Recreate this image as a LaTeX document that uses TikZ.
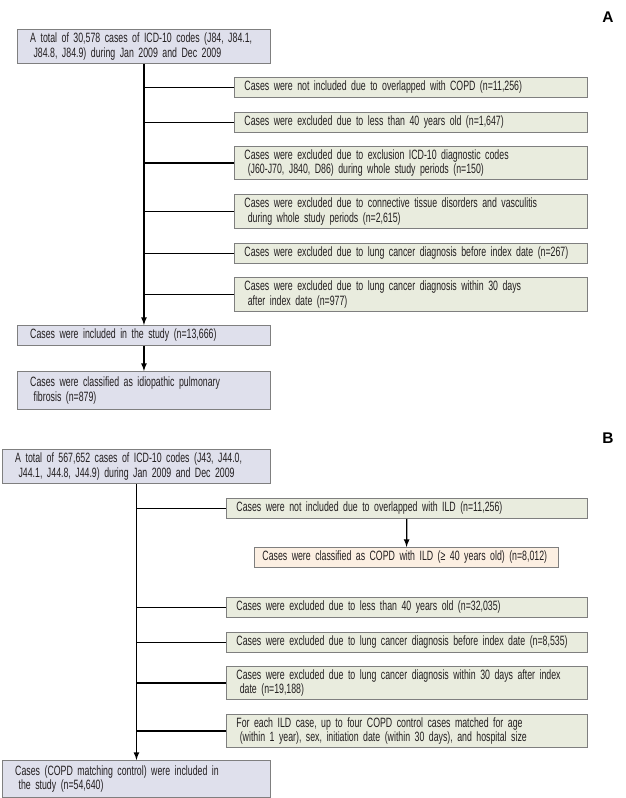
\documentclass[tikz,border=0pt]{standalone}
\usepackage{fontspec}
\setmainfont{Liberation Sans}[FakeStretch=0.65]
\newfontfamily\panelfont{Liberation Sans}
\usepackage{xcolor}
\usepackage{tikz}
\usetikzlibrary{arrows, positioning}

\definecolor{boxline}{HTML}{7F7F7F}
\definecolor{mainfill}{HTML}{DFE0EC}
\definecolor{exclfill}{HTML}{E9ECDE}
\definecolor{subfill}{HTML}{FCEFE2}
\definecolor{textgray}{HTML}{231F20}

\newcommand{\boxfont}{\fontsize{9.6pt}{10.2pt}\selectfont}

\begin{document}
\begin{tikzpicture}[x=0.025cm, y=-0.025cm,
  font=\boxfont, text=textgray,
  flowbox/.style={draw=boxline, line width=0.6pt, anchor=north west, align=left, inner ysep=0pt},
  mainbox/.style={flowbox, fill=mainfill, inner xsep=0.32cm},
  exclbox/.style={flowbox, fill=exclfill, inner xsep=0.25cm},
  subbox/.style={flowbox, fill=subfill, inner xsep=0.2cm},
  trunk/.style={draw=black, line width=0.9pt},
  panel/.style={font=\panelfont\bfseries\fontsize{11pt}{12pt}\selectfont, text=black}
]
\useasboundingbox (0,0) rectangle (626,798);

%------------- Panel A
	\node[panel] (labelA) at (608,17) {A};

	\node[mainbox, text width=5.685cm, minimum height=0.85cm] (topA) at (17,29)
		{A total of 30,578 cases of ICD-10 codes (J84, J84.1,\\\hspace*{0.25em}J84.8, J84.9) during Jan 2009 and Dec 2009};

	\node[exclbox, text width=8.325cm, minimum height=0.5cm] (A_Copd) at (234,77)
		{Cases were not included due to overlapped with COPD (n=11,256)};
	\node[exclbox, text width=8.325cm, minimum height=0.5cm] (A_Age) at (234,112)
		{Cases were excluded due to less than 40 years old (n=1,647)};
	\node[exclbox, text width=8.325cm, minimum height=0.825cm] (A_Codes) at (234,146)
		{Cases were excluded due to exclusion ICD-10 diagnostic codes\\\hspace*{0.25em}(J60-J70, J840, D86) during whole study periods (n=150)};
	\node[exclbox, text width=8.325cm, minimum height=0.85cm] (A_Tissue) at (234,194)
		{Cases were excluded due to connective tissue disorders and vasculitis\\\hspace*{0.25em}during whole study periods (n=2,615)};
	\node[exclbox, text width=8.325cm, minimum height=0.5cm] (A_Before) at (234,243)
		{Cases were excluded due to lung cancer diagnosis before index date (n=267)};
	\node[exclbox, text width=8.325cm, minimum height=0.85cm] (A_Within) at (234,277)
		{Cases were excluded due to lung cancer diagnosis within 30 days\\\hspace*{0.25em}after index date (n=977)};

	\node[mainbox, text width=5.685cm, minimum height=0.5cm] (A_Incl) at (17,325)
		{Cases were included in the study (n=13,666)};
	\node[mainbox, text width=5.685cm, minimum height=0.95cm] (A_Ipf) at (17,371)
		{Cases were classified as idiopathic pulmonary\\\hspace*{0.25em}fibrosis (n=879)};

	\draw[trunk, -latex] (topA) -- (A_Incl);
	\draw[trunk, -latex] (A_Incl) -- (A_Ipf);
	\foreach \b in {A_Copd, A_Age, A_Codes, A_Tissue, A_Before, A_Within}
		\draw[trunk] (\b.west -| topA.south) -- (\b.west);

%------------- Panel B
	\node[panel] (labelB) at (608,438) {B};

	\node[mainbox, text width=6.06cm, minimum height=0.85cm] (topB) at (2,449)
		{A total of 567,652 cases of ICD-10 codes (J43, J44.0,\\\hspace*{0.25em}J44.1, J44.8, J44.9) during Jan 2009 and Dec 2009};

	\node[exclbox, text width=8.525cm, minimum height=0.5cm] (B_Ild) at (226,498)
		{Cases were not included due to overlapped with ILD (n=11,256)};
	\node[subbox, text width=7.2cm, minimum height=0.5cm] (B_CopdIld) at (254,547)
		{Cases were classified as COPD with ILD (≥ 40 years old) (n=8,012)};
	\node[exclbox, text width=8.525cm, minimum height=0.5cm] (B_Age) at (226,597)
		{Cases were excluded due to less than 40 years old (n=32,035)};
	\node[exclbox, text width=8.525cm, minimum height=0.5cm] (B_Before) at (226,632)
		{Cases were excluded due to lung cancer diagnosis before index date (n=8,535)};
	\node[exclbox, text width=8.525cm, minimum height=0.825cm] (B_Within) at (226,666)
		{Cases were excluded due to lung cancer diagnosis within 30 days after index\\\hspace*{0.25em}date (n=19,188)};
	\node[exclbox, text width=8.525cm, minimum height=0.825cm] (B_Match) at (226,714)
		{For each ILD case, up to four COPD control cases matched for age\\\hspace*{0.25em}(within 1 year), sex, initiation date (within 30 days), and hospital size};

	\node[mainbox, text width=6.06cm, minimum height=0.925cm] (B_Incl) at (2,760)
		{Cases (COPD matching control) were included in\\\hspace*{0.25em}the study (n=54,640)};

	\draw[trunk, -latex] (topB) -- (B_Incl);
	\draw[trunk, -latex] (B_Ild) -- (B_CopdIld);
	\foreach \b in {B_Ild, B_Age, B_Before, B_Within, B_Match}
		\draw[trunk] (\b.west -| topB.south) -- (\b.west);

\end{tikzpicture}
\end{document}
